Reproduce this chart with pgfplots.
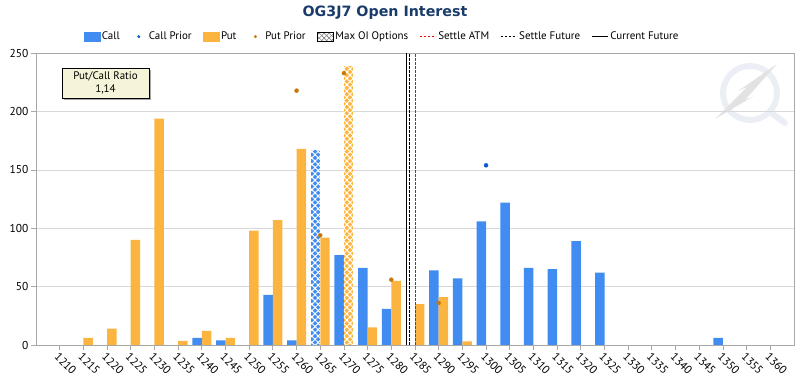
\documentclass[border=0pt]{standalone}
\usepackage{pgfplots}
\pgfplotsset{compat=1.18}
\usepackage{fontspec}
\setmainfont{PT Sans}
\newfontfamily\titlefont{DejaVu Sans}
\usetikzlibrary{patterns,patterns.meta,shadows}
\definecolor{callc}{HTML}{418CF0}
\definecolor{putc}{HTML}{FCB441}
\definecolor{callp}{HTML}{0A5CD0}
\definecolor{putp}{HTML}{C8780A}
\definecolor{titlec}{HTML}{1A3B69}
\definecolor{axc}{HTML}{A8A8A8}
\definecolor{gridc}{HTML}{D8D8D8}
\definecolor{boxc}{HTML}{F6F4D8}
\definecolor{atmred}{HTML}{FF0000}
\definecolor{wmring}{HTML}{EBEFF5}
\definecolor{wmbolt}{HTML}{E2E2E2}
\begin{document}
\begin{tikzpicture}
\path[use as bounding box] (-36bp,-42bp) rectangle (770bp,345bp);
% faint watermark logo
\draw[wmring, line width=6bp] (714bp,252bp) circle (27bp);
\draw[wmring, line width=6bp, line cap=round] (734bp,233bp) -- (749bp,222bp);
\fill[wmbolt] (741bp,281bp) -- (709bp,245bp) -- (718bp,249bp) -- (679bp,226bp) -- (711bp,258bp) -- (702bp,254bp) -- cycle;
\begin{axis}[
  scale only axis, width=758bp, height=291.7bp,
  xmin=-1, xmax=31, ymin=0, ymax=250,
  xtick={0,...,30},
  xticklabels={1210,1215,1220,1225,1230,1235,1240,1245,1250,1255,1260,1265,1270,1275,1280,1285,1290,1295,1300,1305,1310,1315,1320,1325,1330,1335,1340,1345,1350,1355,1360},
  ytick={0,50,...,250},
  ymajorgrids, grid style={gridc, line width=0.8bp},
  axis line style={axc, line width=0.8bp},
  tick style={axc, line width=0.8bp},
  tick align=outside, major tick length=4.5bp, tick pos=left,
  tick label style={font=\fontsize{11.5}{13}\selectfont, text=black},
  xticklabel style={rotate=-45, anchor=north west, inner sep=1.5bp},
  yticklabel style={inner sep=3bp},
  /pgf/number format/assume math mode=true,
  legend columns=8,
  legend style={at={(0.4565,1.057)}, anchor=center, draw=none, fill=none,
    font=\fontsize{11}{13}\selectfont,
    /tikz/every even column/.append style={column sep=9bp},
    inner sep=0pt},
]
% legend
\addlegendimage{legend image code/.code={\fill[callc] (0bp,-4.5bp) rectangle (16bp,4.5bp);}}
\addlegendentry{Call}
\addlegendimage{legend image code/.code={\path[draw=none,fill=none] (0bp,-4.5bp) rectangle (16bp,4.5bp); \fill[callp] (8bp,0bp) circle (1.3bp);}}
\addlegendentry{Call Prior}
\addlegendimage{legend image code/.code={\fill[putc] (0bp,-4.5bp) rectangle (16bp,4.5bp);}}
\addlegendentry{Put}
\addlegendimage{legend image code/.code={\path[draw=none,fill=none] (0bp,-4.5bp) rectangle (16bp,4.5bp); \fill[putp] (8bp,0bp) circle (1.3bp);}}
\addlegendentry{Put Prior}
\addlegendimage{legend image code/.code={\fill[white] (0bp,-4.5bp) rectangle (16bp,4.5bp);
  \fill[pattern={Lines[angle=45,distance=3.5bp,line width=0.6bp]}, pattern color=gray] (0bp,-4.5bp) rectangle (16bp,4.5bp);
  \fill[pattern={Lines[angle=-45,distance=3.5bp,line width=0.6bp]}, pattern color=gray] (0bp,-4.5bp) rectangle (16bp,4.5bp);
  \draw[black, line width=0.8bp] (0bp,-4.5bp) rectangle (16bp,4.5bp);}}
\addlegendentry{Max OI Options}
\addlegendimage{legend image code/.code={\draw[atmred, line width=1bp, dash pattern=on 2.5bp off 1.5bp] (0bp,0bp) -- (16bp,0bp);}}
\addlegendentry{Settle ATM}
\addlegendimage{legend image code/.code={\draw[black, line width=1bp, dash pattern=on 2.5bp off 1.5bp] (0bp,0bp) -- (16bp,0bp);}}
\addlegendentry{Settle Future}
\addlegendimage{legend image code/.code={\draw[black, line width=1.2bp] (0bp,0bp) -- (16bp,0bp);}}
\addlegendentry{Current Future}
% calls
\addplot[ybar, bar width=0.4, bar shift=-0.2, fill=callc, draw=none, forget plot] coordinates {
(6,6) (7,4) (9,43) (10,4) (12,77) (13,66) (14,31) (16,64) (17,57) (18,106) (19,122) (20,66) (21,65) (22,89) (23,62) (28,6)};
\addplot[ybar, bar width=0.4, bar shift=-0.2, fill=callc, draw=none, forget plot,
  postaction={pattern={Lines[angle=45,distance=4.5bp,line width=1bp]}, pattern color=white},
  postaction={pattern={Lines[angle=-45,distance=4.5bp,line width=1bp]}, pattern color=white}] coordinates {(11,167)};
% puts
\addplot[ybar, bar width=0.4, bar shift=0.2, fill=putc, draw=none, forget plot] coordinates {
(1,6) (2,14) (3,90) (4,194) (5,3.5) (6,12) (7,6) (8,98) (9,107) (10,168) (11,92) (13,15) (14,55) (15,35) (16,41) (17,3)};
\addplot[ybar, bar width=0.4, bar shift=0.2, fill=putc, draw=none, forget plot,
  postaction={pattern={Lines[angle=45,distance=4.5bp,line width=1bp]}, pattern color=white},
  postaction={pattern={Lines[angle=-45,distance=4.5bp,line width=1bp]}, pattern color=white}] coordinates {(12,239)};
% vertical lines
\addplot[black, line width=1.2bp, forget plot] coordinates {(14.63,0) (14.63,250)};
\addplot[black, line width=1bp, dash pattern=on 2.5bp off 1.5bp, forget plot] coordinates {(14.75,0) (14.75,250)};
\addplot[atmred, line width=1bp, dash pattern=on 2.5bp off 1.5bp, forget plot] coordinates {(15,0) (15,250)};
% prior dots
\addplot[only marks, mark=*, mark size=2bp, putp, forget plot] coordinates {(10,218) (11,94) (12,233) (14,56) (16,36)};
\addplot[only marks, mark=*, mark size=2bp, callp, forget plot] coordinates {(18,154)};
\end{axis}
\node[draw=black, fill=boxc, line width=0.8bp,
  drop shadow={shadow xshift=2bp, shadow yshift=-2bp, fill=gray!70, opacity=1},
  minimum width=87bp, minimum height=30bp, align=center, inner sep=0pt,
  font=\fontsize{11}{12.5}\selectfont] at (69.5bp,262bp) {Put/Call Ratio\\1,14};
\node[anchor=base, font=\titlefont\bfseries\fontsize{14.3}{17}\selectfont, text=titlec] at (349bp,328bp) {OG3J7 Open Interest};
\end{tikzpicture}
\end{document}
